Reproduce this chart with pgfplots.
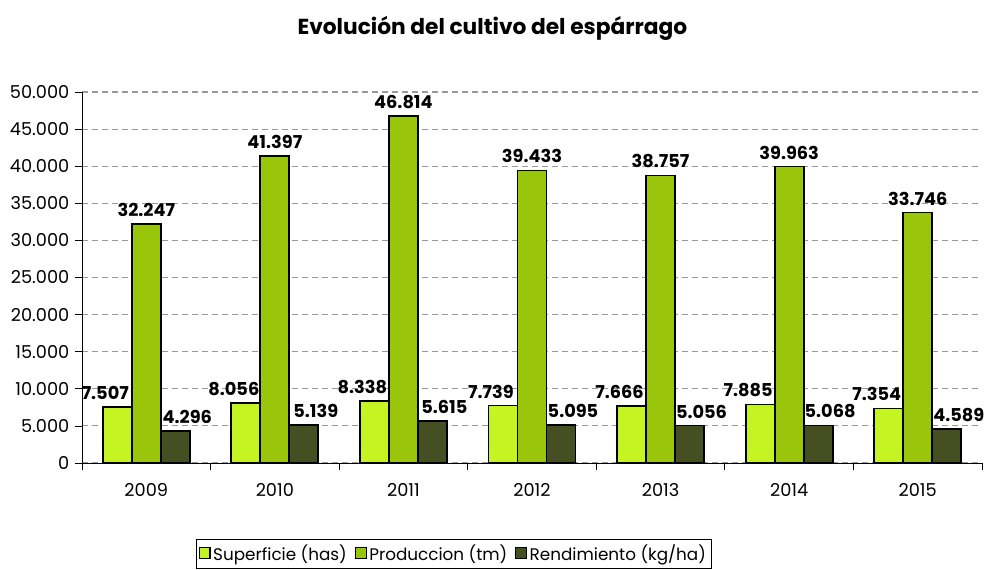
\documentclass[border=0pt]{standalone}
\usepackage{pgfplots}
\pgfplotsset{compat=1.18}
\usepackage{fontspec}
\setmainfont{Poppins}
\definecolor{csup}{HTML}{C4F522}
\definecolor{cpro}{HTML}{99C60A}
\definecolor{cren}{HTML}{454F22}
\begin{document}
\begin{tikzpicture}
\begin{axis}[
  scale only axis,
  width=675pt, height=278.25pt,
  ybar=0pt, bar width=21.75pt,
  xmin=-0.5, xmax=6.5,
  ymin=0, ymax=50000,
  axis x line=bottom, axis y line=left,
  axis line style={-, black, line width=0.6pt},
  xtick={0,...,6},
  xticklabels={2009,2010,2011,2012,2013,2014,2015},
  minor xtick={-0.5,0.5,...,6.5},
  major x tick style={draw=none},
  minor x tick style={black, line width=0.6pt},
  tick align=outside,
  minor tick length=5pt,
  ytick={0,5000,...,50000},
  y tick style={black, line width=0.6pt},
  major tick length=5pt,
  ymajorgrids,
  major grid style={dash pattern=on 4.5pt off 3pt, gray!80, line width=0.8pt},
  scaled y ticks=false,
  /pgf/number format/assume math mode=true,
  /pgf/number format/.cd, 1000 sep={.}, fixed, precision=0, /pgfplots/.cd,
  tick label style={font=\fontsize{13.3}{15}\selectfont},
  yticklabel style={xshift=-1pt},
  xticklabel style={yshift=-7pt},
  nodes near coords,
  every node near coord/.append style={font=\fontsize{13.3}{15}\selectfont\bfseries, yshift=1.5pt},
  title={\textbf{Evolución del cultivo del espárrago}},
  title style={at={(0.456,1.150)}, anchor=center, font=\fontsize{16.3}{18}\selectfont},
  legend style={at={(0.413,-0.245)}, anchor=center, draw=black, line width=0.6pt,
    font=\fontsize{12.6}{15}\selectfont, legend columns=3, inner sep=2pt,
    /tikz/every even column/.append style={column sep=4pt}},
  legend image code/.code={\draw[#1, draw=black, line width=0.8pt] (0pt,-3.5pt) rectangle (8pt,4.5pt);},
]
\addplot[fill=csup, draw=black, line width=1.3pt, every node near coord/.append style={xshift=-9pt}] coordinates {(0,7507) (1,8056) (2,8338) (3,7739) (4,7666) (5,7885) (6,7354)};
\addplot[fill=cpro, draw=black, line width=1.3pt] coordinates {(0,32247) (1,41397) (2,46814) (3,39433) (4,38757) (5,39963) (6,33746)};
\addplot[fill=cren, draw=black, line width=1.3pt, every node near coord/.append style={xshift=9pt}] coordinates {(0,4296) (1,5139) (2,5615) (3,5095) (4,5056) (5,5068) (6,4589)};
\legend{Superficie (has), Produccion (tm), Rendimiento (kg/ha)}
\end{axis}
\pgfresetboundingbox
\path[use as bounding box] (-61.5pt,-79.5pt) rectangle (676.5pt,347.25pt);
\end{tikzpicture}
\end{document}
